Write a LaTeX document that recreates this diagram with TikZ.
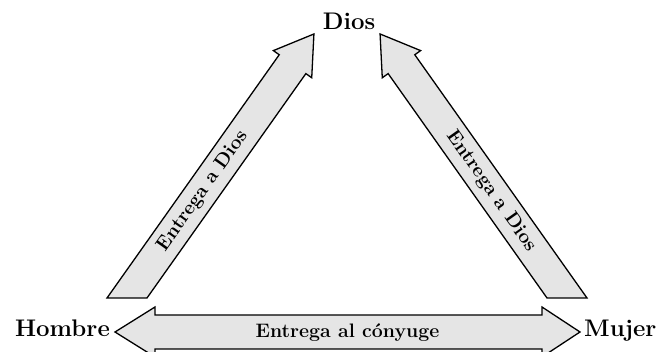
\documentclass[tikz,border=0pt]{standalone}
\usepackage{fontspec}
\usetikzlibrary{positioning,calc}

\begin{document}
\begin{tikzpicture}[x=1pt, y=1pt,
      every node/.style={inner sep=0pt},
      person/.style={font=\fontsize{24}{28}\selectfont\bfseries},
      gift/.style={font=\fontsize{19.5}{23}\selectfont\bfseries},
      fat/.style={draw=black, line width=1.3pt, fill=black!10, line join=miter},
  ]
    \useasboundingbox (0,0) rectangle (662,352);

    %% --- the three persons ---
    \node[person, anchor=base]      (dios)   at (349,322) {Dios};
    \node[person, anchor=base east] (hombre) at (110,15)  {Hombre};
    \node[person, anchor=base west] (mujer)  at (584,15)  {Mujer};

    %% --- double arrow between husband and wife ---
    \coordinate (spl) at ($(hombre.base east)+(5,5)$);
    \coordinate (spr) at ($(mujer.base west)+(-4,5)$);
    \draw[fat] (spl) -- ++(40,25) -- ++(0,-8) -- ($(spr)+(-38,17)$) -- ++(0,8)
      -- (spr) -- ++(-38,-25) -- ++(0,8) -- ($(spl)+(40,-17)$) -- ++(0,-8) -- cycle;
    \node[gift, anchor=base] (spouse) at ($(spl)!0.5!(spr)+(0,-6)$) {Entrega al cónyuge};

    %% --- arrow from the man up to God ---
    \begin{scope}[shift={(127,54)}, rotate=54.7]
      \draw[fat] (-11.56,16.32) -- (286.5,16.32) -- (286.5,23.5) -- (323.5,0)
        -- (286.5,-23.5) -- (286.5,-16.32) -- (11.56,-16.32) -- cycle;
      \node[gift, rotate=54.7] (hgift) at (131,0) {Entrega a Dios};
    \end{scope}

    %% --- arrow from the woman up to God ---
    \begin{scope}[shift={(567,54)}, rotate=125.3]
      \draw[fat] (11.56,16.32) -- (286.5,16.32) -- (286.5,23.5) -- (323.5,0)
        -- (286.5,-23.5) -- (286.5,-16.32) -- (-11.56,-16.32) -- cycle;
      \node[gift, rotate=-54.7] (mgift) at (131,0) {Entrega a Dios};
    \end{scope}
  \end{tikzpicture}
\end{document}
